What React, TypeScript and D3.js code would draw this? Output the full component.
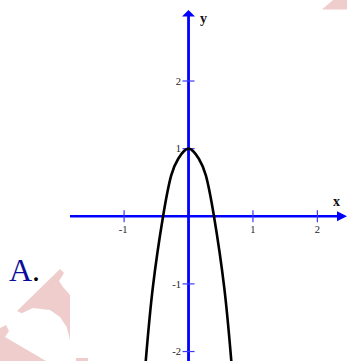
import React from "react";
import * as d3 from "d3";

// Sampled points of the plotted curve (x, y in graph units)
const curveX = [-0.665, -0.555, -0.395, -0.27, -0.16, 0, 0.16, 0.27, 0.395, 0.555, 0.665];
const curveY = [-2.15, -1.06, 0, 0.6, 0.85, 1, 0.85, 0.6, 0, -1.06, -2.15];

// Axis ticks
const xTicks = [-1, 1, 2];
const yTicks = [-2, -1, 1, 2];
const xTickLabels = ["-1", "1", "2"];
const yTickLabels = ["-2", "-1", "1", "2"];

// Faint background marks
const wmShapes: [number, number][][] = [
  [[60, 269], [64, 273], [59, 281], [63, 287], [70, 295], [70, 340], [66.7, 327], [60, 317], [50, 310], [33, 308], [21.7, 313.3], [17, 311]],
  [[0, 328], [6, 325], [9, 331], [5, 337], [46, 361], [0, 361]],
  [[76, 358], [88, 358], [88, 361], [76, 361]],
  [[333, 0], [347, 0], [347, 9.5], [322, 9.5]],
];

const W = 347;
const H = 361;
const serif = "'Liberation Serif', 'Times New Roman', serif";

export default function App() {
  const x = d3.scaleLinear().domain([-1.84, 2.46]).range([70, 347]);
  const y = d3.scaleLinear().domain([-2.14, 3.05]).range([361, 10]);
  const x0 = x(0);
  const y0 = y(0);

  const pts: [number, number][] = curveX.map((v, i) => [v, curveY[i]]);
  const line = d3
    .line<[number, number]>()
    .x((d) => x(d[0]))
    .y((d) => y(d[1]))
    .curve(d3.curveNatural);

  const blue = "#0000ff";
  const xEnd = x(2.46);
  const yTop = y(3.05);

  return (
    <svg
      width={W}
      height={H}
      style={{ position: "absolute", left: 0, top: 0, background: "#fff" }}
    >
      {wmShapes.map((s, i) => (
        <polygon key={i} points={s.map((p) => p.join(",")).join(" ")} fill="#efcdcd" />
      ))}

      {/* x axis */}
      <line x1={70} y1={y0} x2={xEnd - 6} y2={y0} stroke={blue} strokeWidth={2.6} />
      <polygon points={`${xEnd},${y0} ${xEnd - 10},${y0 - 5} ${xEnd - 10},${y0 + 5}`} fill={blue} />
      {/* y axis */}
      <line x1={x0} y1={H} x2={x0} y2={yTop + 4} stroke={blue} strokeWidth={2.8} />
      <polygon points={`${x0},${yTop} ${x0 - 6.5},${yTop + 6.5} ${x0 + 6.5},${yTop + 6.5}`} fill={blue} />

      {xTicks.map((t, i) => (
        <g key={"xt" + t}>
          <line x1={x(t)} x2={x(t)} y1={y0 - 6} y2={y0 + 6} stroke="#3a3aff" strokeWidth={1.2} />
          <text
            x={x(t) - (t < 0 ? 1 : 0)}
            y={y0 + 17}
            textAnchor="middle"
            fontFamily={serif}
            fontSize={10.5}
            fill="#222"
          >
            {xTickLabels[i]}
          </text>
        </g>
      ))}
      {yTicks.map((t, i) => (
        <g key={"yt" + t}>
          <line x1={x0 - 6} x2={x0 + 6} y1={y(t)} y2={y(t)} stroke="#3a3aff" strokeWidth={1.2} />
          <text
            x={x0 - 7.5}
            y={y(t) + 3.8}
            textAnchor="end"
            fontFamily={serif}
            fontSize={10.5}
            fill="#222"
          >
            {yTickLabels[i]}
          </text>
        </g>
      ))}

      <text x={333} y={206} fontFamily={serif} fontWeight="bold" fontSize={14} fill="#111">
        x
      </text>
      <text x={200} y={23} fontFamily={serif} fontWeight="bold" fontSize={14} fill="#111">
        y
      </text>

      <path d={line(pts) || ""} fill="none" stroke="#000" strokeWidth={2.6} />

      <text x={9} y={281} fontFamily={serif} fontSize={32} fill="#0c0c9c">
        A<tspan fill="#000">.</tspan>
      </text>
    </svg>
  );
}
